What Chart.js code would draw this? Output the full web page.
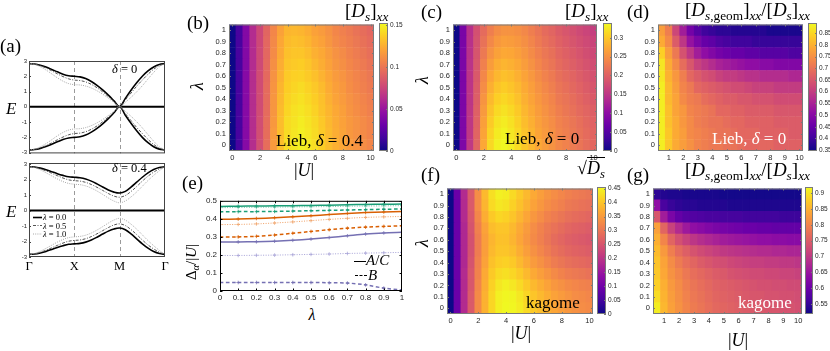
<!DOCTYPE html>
<html><head><meta charset="utf-8">
<script src="https://cdn.jsdelivr.net/npm/chart.js"></script>
<style>
html,body{margin:0;padding:0;background:#fff;width:830px;height:351px;overflow:hidden;position:relative}
canvas{position:absolute}
.m{position:absolute;font-family:'Liberation Serif','DejaVu Serif',serif;white-space:nowrap;line-height:1;color:#000}
.m sub{font-size:0.7em;vertical-align:-0.32em;line-height:0}
.rot{transform:translate(-50%,-50%) rotate(-90deg)}
.ctr{transform:translate(-50%,-50%)}
.w{color:#fff}
</style></head><body>
<script>
// ---------------- DATA ----------------
const lambdaVals = [0,0.1,0.2,0.3,0.4,0.5,0.6,0.7,0.8,0.9,1];
const lambdaTickLabels = ['0','0.1','0.2','0.3','0.4','0.5','0.6','0.7','0.8','0.9','1'];
const uFrom0 = [0,0.5,1,1.5,2,2.5,3,3.5,4,4.5,5,5.5,6,6.5,7,7.5,8,8.5,9,9.5,10];
const uFromHalf = [0.5,1,1.5,2,2.5,3,3.5,4,4.5,5,5.5,6,6.5,7,7.5,8,8.5,9,9.5,10];
const uTicksEven = [0,2,4,6,8,10];
const uTicksAll = [1,2,3,4,5,6,7,8,9,10];

// (a) band structure along Γ-X-M-Γ
const kPath = [0,0.125,0.25,0.375,0.5,0.625,0.75,0.875,1,1.125,1.25,1.375,1.5,1.625,1.75,1.875,2,2.125,2.25,2.375,2.5,2.625,2.75,2.875,3];
const pathLabels = ['Γ','X','M','Γ'];
const energyTicks = [-3,-2,-1,0,1,2,3];
const flatBand = [0,0];
const flatK = [0,3];
const d0_l00_up = [2.83,2.80,2.72,2.60,2.45,2.29,2.14,2.04,2.00,1.96,1.85,1.66,1.41,1.11,0.77,0.39,0.00,0.55,1.08,1.57,2.00,2.35,2.61,2.77,2.83];
const d0_l05_up = [2.83,2.79,2.69,2.54,2.36,2.16,1.98,1.83,1.75,1.72,1.63,1.47,1.25,0.98,0.67,0.34,0.00,0.45,0.90,1.35,1.75,2.13,2.46,2.70,2.83];
const d0_l10_up = [2.83,2.77,2.62,2.41,2.16,1.90,1.68,1.52,1.45,1.43,1.36,1.23,1.05,0.83,0.57,0.29,0.00,0.30,0.62,0.98,1.38,1.82,2.25,2.62,2.83];
const d0_l00_dn = [-2.83,-2.80,-2.72,-2.60,-2.45,-2.29,-2.14,-2.04,-2.00,-1.96,-1.85,-1.66,-1.41,-1.11,-0.77,-0.39,0.00,-0.55,-1.08,-1.57,-2.00,-2.35,-2.61,-2.77,-2.83];
const d0_l05_dn = [-2.83,-2.79,-2.69,-2.54,-2.36,-2.16,-1.98,-1.83,-1.75,-1.72,-1.63,-1.47,-1.25,-0.98,-0.67,-0.34,0.00,-0.45,-0.90,-1.35,-1.75,-2.13,-2.46,-2.70,-2.83];
const d0_l10_dn = [-2.83,-2.77,-2.62,-2.41,-2.16,-1.90,-1.68,-1.52,-1.45,-1.43,-1.36,-1.23,-1.05,-0.83,-0.57,-0.29,0.00,-0.30,-0.62,-0.98,-1.38,-1.82,-2.25,-2.62,-2.83];
const d4_l00_up = [2.83,2.81,2.74,2.64,2.51,2.38,2.27,2.18,2.15,2.12,2.04,1.90,1.72,1.52,1.33,1.19,1.13,1.24,1.51,1.83,2.15,2.43,2.65,2.78,2.83];
const d4_l05_up = [2.83,2.79,2.70,2.56,2.41,2.25,2.10,1.98,1.93,1.90,1.82,1.68,1.50,1.30,1.10,0.93,0.86,0.97,1.23,1.55,1.90,2.22,2.48,2.69,2.83];
const d4_l10_up = [2.83,2.77,2.63,2.44,2.24,2.04,1.87,1.75,1.70,1.67,1.59,1.45,1.26,1.04,0.81,0.61,0.50,0.62,0.88,1.20,1.57,1.94,2.27,2.57,2.83];
const d4_l00_dn = [-2.83,-2.81,-2.74,-2.64,-2.51,-2.38,-2.27,-2.18,-2.15,-2.12,-2.04,-1.90,-1.72,-1.52,-1.33,-1.19,-1.13,-1.24,-1.51,-1.83,-2.15,-2.43,-2.65,-2.78,-2.83];
const d4_l05_dn = [-2.83,-2.79,-2.70,-2.56,-2.41,-2.25,-2.10,-1.98,-1.93,-1.90,-1.82,-1.68,-1.50,-1.30,-1.10,-0.93,-0.86,-0.97,-1.23,-1.55,-1.90,-2.22,-2.48,-2.69,-2.83];
const d4_l10_dn = [-2.83,-2.77,-2.63,-2.44,-2.24,-2.04,-1.87,-1.75,-1.70,-1.67,-1.59,-1.45,-1.26,-1.04,-0.81,-0.61,-0.50,-0.62,-0.88,-1.20,-1.57,-1.94,-2.27,-2.57,-2.83];

// (b) [Ds]xx Lieb delta=0.4 ; rows = lambda 0..1, cols = |U| 0..10
const heatB = [
[0,.018,.042,.063,.080,.096,.117,.132,.143,.147,.150,.147,.143,.137,.131,.126,.122,.117,.114,.111,.108],
[0,.018,.042,.063,.080,.096,.117,.131,.142,.146,.149,.146,.142,.136,.130,.125,.121,.116,.113,.110,.107],
[0,.018,.042,.063,.080,.096,.116,.131,.142,.145,.148,.145,.141,.135,.129,.124,.120,.116,.113,.110,.107],
[0,.018,.042,.063,.079,.095,.115,.130,.140,.144,.146,.143,.139,.133,.128,.123,.119,.114,.111,.108,.105],
[0,.018,.042,.063,.079,.095,.115,.129,.139,.142,.144,.141,.137,.132,.126,.121,.117,.113,.110,.107,.104],
[0,.018,.042,.063,.079,.095,.114,.128,.137,.140,.142,.139,.135,.130,.124,.119,.116,.111,.108,.105,.102],
[0,.018,.042,.063,.079,.094,.113,.126,.136,.138,.139,.136,.132,.127,.122,.117,.114,.110,.107,.104,.101],
[0,.018,.041,.062,.078,.094,.112,.125,.134,.136,.137,.134,.129,.125,.120,.115,.112,.108,.105,.102,.099],
[0,.018,.041,.062,.078,.093,.110,.123,.132,.134,.134,.131,.126,.123,.118,.113,.110,.106,.103,.100,.097],
[0,.018,.041,.062,.077,.093,.109,.122,.130,.132,.131,.128,.123,.120,.115,.110,.107,.104,.101,.098,.095],
[0,.018,.041,.062,.077,.092,.108,.120,.128,.129,.128,.125,.120,.117,.113,.108,.105,.102,.099,.096,.093]];
const cbB = [0, 0.1527];
const cbBTicks = [0,0.05,0.1,0.15];
const cbBLabels = ['0','0.05','0.1','0.15'];

// (c) [Ds]xx Lieb delta=0
const heatC = [
[0,.085,.153,.204,.272,.313,.333,.338,.330,.316,.299,.286,.272,.262,.252,.241,.235,.228,.221,.214,.207],
[0,.085,.152,.203,.268,.308,.328,.335,.325,.312,.296,.283,.269,.259,.249,.238,.232,.225,.218,.211,.204],
[0,.085,.152,.201,.264,.302,.322,.329,.320,.307,.291,.279,.265,.255,.246,.235,.229,.222,.215,.208,.201],
[0,.084,.151,.199,.259,.295,.314,.321,.313,.301,.286,.274,.261,.251,.241,.231,.224,.217,.210,.204,.197],
[0,.084,.150,.196,.253,.287,.305,.312,.305,.294,.280,.268,.256,.246,.237,.226,.220,.213,.206,.199,.192],
[0,.084,.149,.194,.246,.279,.296,.303,.297,.287,.275,.263,.251,.241,.232,.221,.215,.208,.201,.194,.187],
[0,.083,.148,.191,.240,.270,.286,.293,.289,.280,.268,.257,.245,.235,.227,.216,.210,.203,.196,.189,.182],
[0,.083,.147,.189,.233,.261,.277,.284,.280,.273,.262,.251,.239,.229,.221,.211,.204,.197,.190,.184,.177],
[0,.083,.145,.186,.226,.251,.266,.273,.271,.264,.255,.244,.233,.223,.216,.205,.199,.192,.185,.178,.171],
[0,.082,.144,.183,.218,.241,.256,.263,.261,.256,.248,.238,.227,.217,.210,.200,.193,.186,.179,.173,.166],
[0,.082,.143,.180,.211,.231,.245,.252,.252,.248,.241,.231,.221,.211,.204,.194,.187,.180,.173,.167,.160]];
const cbC = [0, 0.339];
const cbCTicks = [0,0.05,0.1,0.15,0.2,0.25,0.3];
const cbCLabels = ['0','0.05','0.1','0.15','0.2','0.25','0.3'];

// (d) [Ds,geom]xx/[Ds]xx Lieb delta=0 ; cols = |U| 0.5..10
const heatD = [
[.88,.83,.79,.77,.75,.73,.72,.71,.71,.70,.70,.69,.68,.68,.68,.68,.67,.67,.67,.67],
[.88,.83,.79,.77,.74,.73,.72,.71,.70,.70,.69,.68,.68,.68,.67,.67,.67,.67,.66,.66],
[.88,.82,.79,.76,.74,.72,.71,.70,.70,.69,.68,.68,.67,.67,.67,.67,.66,.66,.66,.66],
[.88,.82,.78,.76,.73,.72,.71,.70,.68,.68,.67,.67,.66,.66,.66,.66,.65,.65,.65,.65],
[.88,.81,.78,.74,.72,.71,.69,.68,.67,.66,.66,.65,.65,.64,.64,.64,.63,.63,.63,.63],
[.88,.81,.77,.73,.71,.68,.67,.66,.65,.64,.63,.63,.62,.61,.61,.61,.60,.60,.60,.60],
[.87,.80,.76,.72,.68,.66,.64,.63,.61,.60,.60,.59,.58,.58,.57,.57,.57,.57,.56,.56],
[.87,.79,.74,.69,.65,.61,.59,.57,.55,.54,.53,.52,.51,.51,.50,.50,.49,.49,.49,.49],
[.84,.77,.71,.64,.59,.54,.51,.49,.47,.46,.45,.45,.44,.44,.43,.43,.43,.43,.42,.42],
[.79,.74,.66,.59,.52,.48,.45,.44,.42,.41,.40,.40,.40,.39,.39,.39,.39,.39,.39,.39],
[.77,.72,.62,.54,.47,.43,.40,.39,.38,.38,.37,.37,.37,.37,.37,.36,.36,.36,.36,.36]];
const cbD = [0.346, 0.894];
const cbDTicks = [0.35,0.4,0.45,0.5,0.55,0.6,0.65,0.7,0.75,0.8,0.85];
const cbDLabels = ['0.35','0.4','0.45','0.5','0.55','0.6','0.65','0.7','0.75','0.8','0.85'];

// (f) sqrt(Ds) kagome
const heatF = [
[0,.092,.184,.258,.327,.377,.419,.446,.455,.453,.442,.423,.405,.391,.377,.363,.354,.345,.336,.331,.327],
[0,.092,.184,.258,.327,.377,.419,.446,.453,.451,.437,.419,.400,.386,.373,.359,.350,.340,.331,.327,.322],
[0,.092,.184,.253,.322,.373,.414,.437,.446,.437,.423,.405,.386,.373,.359,.345,.336,.327,.322,.317,.313],
[0,.092,.184,.253,.317,.368,.405,.423,.428,.419,.405,.386,.368,.354,.340,.327,.317,.308,.304,.299,.294],
[0,.092,.179,.248,.313,.359,.396,.409,.414,.405,.386,.368,.350,.336,.322,.308,.299,.290,.285,.281,.276],
[0,.092,.179,.244,.308,.354,.386,.400,.400,.391,.373,.354,.336,.322,.308,.294,.285,.276,.271,.267,.262],
[0,.092,.179,.244,.308,.354,.382,.396,.396,.382,.363,.345,.327,.313,.299,.285,.276,.267,.262,.258,.253],
[0,.092,.179,.248,.313,.359,.391,.400,.400,.386,.368,.350,.331,.317,.304,.294,.285,.276,.271,.267,.262],
[0,.092,.184,.253,.322,.373,.405,.419,.414,.400,.382,.363,.345,.331,.317,.308,.299,.290,.285,.281,.276],
[0,.092,.184,.258,.331,.382,.423,.437,.432,.414,.396,.377,.359,.345,.331,.322,.313,.304,.299,.294,.290],
[0,.092,.184,.258,.331,.386,.428,.446,.442,.423,.405,.386,.368,.354,.340,.331,.322,.313,.308,.304,.299]];
const cbF = [0, 0.456];
const cbFTicks = [0,0.05,0.1,0.15,0.2,0.25,0.3,0.35,0.4,0.45];
const cbFLabels = ['0','0.05','0.1','0.15','0.2','0.25','0.3','0.35','0.4','0.45'];

// (g) [Ds,geom]xx/[Ds]xx kagome ; cols = |U| 0.5..10
const heatG = [
[.908,.856,.832,.816,.800,.788,.780,.772,.764,.760,.756,.752,.748,.744,.744,.740,.740,.736,.736,.732],
[.892,.852,.828,.812,.796,.784,.776,.768,.760,.756,.752,.748,.744,.740,.740,.736,.736,.732,.732,.728],
[.880,.848,.824,.808,.792,.780,.772,.764,.756,.752,.748,.744,.740,.736,.732,.732,.728,.728,.724,.724],
[.872,.840,.816,.800,.784,.772,.764,.756,.748,.744,.736,.732,.728,.724,.724,.720,.720,.716,.716,.712],
[.868,.836,.808,.788,.772,.760,.748,.740,.732,.728,.720,.716,.712,.708,.708,.704,.704,.700,.700,.696],
[.860,.824,.792,.768,.752,.736,.724,.716,.708,.700,.696,.692,.688,.684,.680,.680,.676,.676,.672,.672],
[.848,.800,.760,.732,.712,.696,.684,.676,.668,.660,.656,.652,.648,.644,.640,.640,.636,.636,.632,.632],
[.832,.760,.712,.680,.656,.640,.632,.624,.616,.612,.608,.604,.600,.600,.596,.596,.592,.592,.592,.592],
[.740,.660,.616,.592,.580,.576,.572,.568,.568,.564,.564,.564,.560,.560,.560,.560,.560,.556,.556,.556],
[.640,.568,.552,.544,.540,.540,.536,.536,.536,.536,.532,.532,.532,.532,.532,.532,.532,.532,.532,.532],
[.544,.536,.532,.532,.528,.528,.528,.528,.528,.524,.524,.524,.524,.524,.524,.524,.524,.524,.524,.524]];
const cbG = [0.519, 0.919];
const cbGTicks = [0.55,0.6,0.65,0.7,0.75,0.8,0.85,0.9];
const cbGLabels = ['0.55','0.6','0.65','0.7','0.75','0.8','0.85','0.9'];

// (e) Delta_alpha/|U| vs lambda
const gapTicksY = [0,0.1,0.2,0.3,0.4,0.5];
const gapTickLabelsY = ['0','0.1','0.2','0.3','0.4','0.5'];
const gapGreenA   = [.469,.470,.471,.472,.473,.474,.476,.478,.480,.481,.482];
const gapGreenDot = [.462,.463,.464,.465,.466,.467,.468,.470,.471,.472,.473];
const gapGreenB   = [.439,.440,.440,.441,.443,.445,.447,.449,.451,.453,.455];
const gapOrangeA  = [.398,.399,.402,.406,.411,.417,.424,.430,.435,.438,.440];
const gapOrangeDot= [.368,.369,.372,.377,.383,.390,.397,.403,.408,.411,.413];
const gapOrangeB  = [.299,.300,.303,.310,.320,.330,.340,.348,.354,.358,.362];
const gapPurpleA  = [.272,.272,.273,.276,.281,.288,.296,.306,.316,.322,.325];
const gapPurpleDot= [.197,.197,.198,.199,.201,.203,.205,.208,.210,.212,.214];
const gapPurpleB  = [.047,.047,.047,.047,.047,.047,.046,.044,.034,.016,.006];

// ---------------- helpers ----------------
const PLASMA = ['#0d0887','#41049d','#6a00a8','#8f0da4','#b12a90','#cc4778','#e16462','#f2844b','#fca636','#fcce25','#f0f921'];
const PL = PLASMA.map(h => [parseInt(h.slice(1,3),16),parseInt(h.slice(3,5),16),parseInt(h.slice(5,7),16)]);
function plasma(t){
  t = Math.max(0, Math.min(1, t));
  const f = t*10, i = Math.min(9, Math.floor(f)), r = f - i;
  const a = PL[i], b = PL[i+1];
  return 'rgb(' + [0,1,2].map(k => Math.round(a[k] + (b[k]-a[k])*r)).join(',') + ')';
}
Chart.defaults.font.family = "'Liberation Sans', Arial, sans-serif";
Chart.defaults.color = '#262626';
Chart.defaults.animation = false;
Chart.defaults.responsive = false;
Chart.defaults.devicePixelRatio = 1;
Chart.defaults.plugins.legend.display = false;
Chart.defaults.plugins.tooltip.enabled = false;

const frameTicks = {
  id: 'frameTicks',
  beforeDatasetsDraw(chart, args, o) {
    if (!o || !o.on || !o.vlines) return;
    const {ctx, chartArea: a, scales} = chart;
    ctx.save(); ctx.setLineDash(o.vdash || [3,3]); ctx.strokeStyle = o.vcolor || '#999'; ctx.lineWidth = 1;
    o.vlines.forEach(v => { const p = Math.round(scales.x.getPixelForValue(v)) + 0.5; ctx.beginPath(); ctx.moveTo(p, a.top); ctx.lineTo(p, a.bottom); ctx.stroke(); });
    ctx.restore();
  },
  afterDatasetsDraw(chart, args, o) {
    if (!o || !o.on) return;
    const {ctx, chartArea: a, scales} = chart;
    ctx.save();
    ctx.strokeStyle = o.color || '#000'; ctx.lineWidth = o.width || 1;
    const L = o.len || 3;
    const seg = (x1,y1,x2,y2) => { ctx.beginPath(); ctx.moveTo(x1,y1); ctx.lineTo(x2,y2); ctx.stroke(); };
    if (o.xTicks !== false && scales.x && scales.x.ticks) {
      scales.x.ticks.forEach(t => { const p = Math.round(scales.x.getPixelForValue(t.value)) + 0.5;
        if (p < a.left || p > a.right) return;
        seg(p, a.bottom, p, a.bottom - L); if (o.mirror) seg(p, a.top, p, a.top + L); });
    }
    if (o.yTicks !== false && scales.y && scales.y.ticks) {
      scales.y.ticks.forEach(t => { const p = Math.round(scales.y.getPixelForValue(t.value)) + 0.5;
        if (p < a.top - 1 || p > a.bottom + 1) return;
        if (o.yRight) seg(a.right, p, a.right - L, p); else seg(a.left, p, a.left + L, p);
        if (o.mirror) seg(a.right, p, a.right - L, p); });
    }
    ctx.strokeRect(a.left + 0.5, a.top + 0.5, a.right - a.left - 1, a.bottom - a.top - 1);
    ctx.restore();
  }
};
Chart.register(frameTicks);

function setupCanvas(r, m){
  const c = document.createElement('canvas');
  const w = r[2]-r[0]+m.l+m.r, h = r[3]-r[1]+m.t+m.b;
  c.width = w; c.height = h;
  c.style.left = (r[0]-m.l)+'px'; c.style.top = (r[1]-m.t)+'px';
  c.style.width = w+'px'; c.style.height = h+'px';
  document.body.appendChild(c);
  return c;
}
const fixedTicks = vals => s => { s.ticks = vals.map(v => ({value: v})); };
const noGrid = {display: false, drawTicks: false};

function heatmap(rect, grid, uVals, xMin, xMax, xTicks, range){
  const m = {l: 24, t: 6, r: 8, b: 12};
  const c = setupCanvas(rect, m);
  const [lo, hi] = range;
  new Chart(c, {
    type: 'bar',
    data: { datasets: grid.map((row, i) => ({
      data: row.map((v, j) => ({x: uVals[j], y: [lambdaVals[i] - 0.05, lambdaVals[i] + 0.05]})),
      backgroundColor: row.map(v => plasma((v - lo)/(hi - lo))),
      borderWidth: 0, grouped: false, barPercentage: 1, categoryPercentage: 1, clip: 0
    }))},
    options: {
      layout: {padding: {top: m.t, right: m.r, left: 0, bottom: 0}},
      scales: {
        x: {type: 'linear', min: xMin, max: xMax, offset: false, grid: noGrid, border: {display: false},
            afterBuildTicks: fixedTicks(xTicks), afterFit: s => { s.height = m.b; },
            ticks: {font: {size: 7.5}, padding: 2, maxRotation: 0, autoSkip: false, callback: v => String(v)}},
        y: {type: 'linear', min: -0.05, max: 1.05, grid: noGrid, border: {display: false},
            afterBuildTicks: fixedTicks(lambdaVals), afterFit: s => { s.width = m.l; },
            ticks: {font: {size: 7.5}, padding: 3, autoSkip: false, callback: (v, i) => lambdaTickLabels[i]}}
      },
      plugins: {frameTicks: {on: true, color: '#7a7a7a', len: 2, mirror: true}}
    }
  });
}

function colorbar(rect, range, ticks, labels){
  const m = {l: 0, t: 6, r: 24, b: 6};
  const c = setupCanvas(rect, m);
  const [lo, hi] = range;
  new Chart(c, {
    type: 'bar',
    data: {labels: ['c'], datasets: [{data: [[lo, hi]], borderWidth: 0, barPercentage: 1, categoryPercentage: 1,
      backgroundColor: ctx => {
        const a = ctx.chart.chartArea; if (!a) return plasma(0.5);
        const g = ctx.chart.ctx.createLinearGradient(0, a.bottom, 0, a.top);
        PLASMA.forEach((col, i) => g.addColorStop(i/10, col));
        return g;
      }}]},
    options: {
      layout: {padding: {top: m.t, right: 0, left: 0, bottom: m.b}},
      scales: {
        x: {display: false},
        y: {position: 'right', min: lo, max: hi, grid: noGrid, border: {display: false},
            afterBuildTicks: fixedTicks(ticks), afterFit: s => { s.width = m.r; },
            ticks: {font: {size: 6.5}, padding: 2, autoSkip: false, callback: (v, i) => labels[i]}}
      },
      plugins: {frameTicks: {on: true, color: '#7a7a7a', len: 2, xTicks: false, yRight: true}}
    }
  });
}

function bandChart(rect, ymin, ymax, showX, ups, dns){
  const m = {l: 29, t: 6, r: 6, b: showX ? 17 : 5};
  const c = setupCanvas(rect, m);
  const styles = [
    {color: '#000', width: 1.6, dash: []},
    {color: '#555', width: 1, dash: [3,1.5,1,1.5]},
    {color: '#a8a8a8', width: 1, dash: [1,1.2]}
  ];
  const ds = [];
  [2,1,0].forEach(i => {
    [ups[i], dns[i]].forEach(arr => ds.push({
      data: kPath.map((k, j) => ({x: k, y: arr[j]})),
      borderColor: styles[i].color, borderWidth: styles[i].width, borderDash: styles[i].dash,
      pointRadius: 0, tension: 0.35, fill: false
    }));
  });
  ds.push({data: flatK.map((k, j) => ({x: k, y: flatBand[j]})), borderColor: '#000', borderWidth: 2, pointRadius: 0});
  new Chart(c, {
    type: 'line',
    data: {datasets: ds},
    options: {
      layout: {padding: {top: m.t, right: m.r, left: 0, bottom: 0}},
      scales: {
        x: {type: 'linear', min: 0, max: 3, grid: noGrid, border: {display: false},
            afterBuildTicks: fixedTicks([0,1,2,3]), afterFit: s => { s.height = m.b; },
            ticks: {display: showX, autoSkip: false, maxRotation: 0, padding: 2, color: '#000',
                    font: {family: "'Liberation Serif', serif", size: 12.5}, callback: (v, i) => pathLabels[i]}},
        y: {type: 'linear', min: ymin, max: ymax, grid: noGrid, border: {display: false},
            afterBuildTicks: fixedTicks(energyTicks), afterFit: s => { s.width = m.l; },
            ticks: {font: {size: 6}, padding: 2, autoSkip: false, callback: v => String(v)}}
      },
      plugins: {frameTicks: {on: true, color: '#444', len: 2, xTicks: false, vlines: [1,2], vdash: [4,3], vcolor: '#9a9a9a'}}
    }
  });
}

function gapChart(rect){
  const m = {l: 26, t: 6, r: 6, b: 13};
  const c = setupCanvas(rect, m);
  const G = '#1b9e77', O = '#d95f02', P = '#7570b3';
  const Gl = '#6fc7a8', Ol = '#f0a36a', Pl = '#a9a5d8';
  const spec = [
    [gapGreenA, G, []], [gapGreenDot, Gl, [1,1.4]], [gapGreenB, G, [3.5,2.5]],
    [gapOrangeA, O, []], [gapOrangeDot, Ol, [1,1.4]], [gapOrangeB, O, [3.5,2.5]],
    [gapPurpleA, P, []], [gapPurpleDot, Pl, [1,1.4]], [gapPurpleB, P, [3.5,2.5]]
  ];
  new Chart(c, {
    type: 'line',
    data: {datasets: spec.map(([arr, col, dash]) => ({
      data: lambdaVals.map((x, i) => ({x, y: arr[i]})),
      borderColor: col, borderWidth: dash.length === 2 && dash[0] === 1 ? 1 : 1.5, borderDash: dash,
      pointStyle: 'cross', pointRadius: 1.8, pointBorderWidth: 0.8, pointBorderColor: col, tension: 0.3
    }))},
    options: {
      layout: {padding: {top: m.t, right: m.r, left: 0, bottom: 0}},
      scales: {
        x: {type: 'linear', min: 0, max: 1, grid: noGrid, border: {display: false},
            afterBuildTicks: fixedTicks(lambdaVals), afterFit: s => { s.height = m.b; },
            ticks: {font: {size: 8}, padding: 2, autoSkip: false, maxRotation: 0, callback: (v, i) => lambdaTickLabels[i]}},
        y: {type: 'linear', min: 0, max: 0.5, grid: noGrid, border: {display: false},
            afterBuildTicks: fixedTicks(gapTicksY), afterFit: s => { s.width = m.l; },
            ticks: {font: {size: 8}, padding: 3, autoSkip: false, callback: (v, i) => gapTickLabelsY[i]}}
      },
      plugins: {frameTicks: {on: true, color: '#000', len: 2.5, mirror: true}}
    }
  });
}

// ---------------- build ----------------
bandChart([29,61,165,154], -3.05, 3.0, false, [d0_l00_up,d0_l05_up,d0_l10_up], [d0_l00_dn,d0_l05_dn,d0_l10_dn]);
bandChart([29,163,165,257], -3.0, 3.07, true, [d4_l00_up,d4_l05_up,d4_l10_up], [d4_l00_dn,d4_l05_dn,d4_l10_dn]);

heatmap([229,23,374,151], heatB, uFrom0, -0.25, 10.25, uTicksEven, cbB);
colorbar([379,23,388,151], cbB, cbBTicks, cbBLabels);
heatmap([453,23,597,151], heatC, uFrom0, -0.25, 10.25, uTicksEven, cbC);
colorbar([603,23,612,151], cbC, cbCTicks, cbCLabels);
heatmap([658,23,803,151], heatD, uFromHalf, 0.25, 10.25, uTicksAll, cbD);
colorbar([808,23,817,151], cbD, cbDTicks, cbDLabels);
heatmap([447,187,593,314], heatF, uFrom0, -0.25, 10.25, uTicksEven, cbF);
colorbar([597,187,606,314], cbF, cbFTicks, cbFLabels);
heatmap([653,187,802,314], heatG, uFromHalf, 0.25, 10.25, uTicksAll, cbG);
colorbar([805,187,813,314], cbG, cbGTicks, cbGLabels);

gapChart([220,199,402,291]);
</script>

<!-- panel letters -->
<div class="m" style="left:0px;top:36px;font-size:19px">(a)</div>
<div class="m" style="left:187px;top:13px;font-size:19px">(b)</div>
<div class="m" style="left:421px;top:2px;font-size:19px">(c)</div>
<div class="m" style="left:627px;top:2px;font-size:19px">(d)</div>
<div class="m" style="left:182px;top:173px;font-size:19px">(e)</div>
<div class="m" style="left:421px;top:165px;font-size:19px">(f)</div>
<div class="m" style="left:627px;top:165px;font-size:19px">(g)</div>

<!-- titles -->
<div class="m" style="left:345px;top:1px;font-size:19px">[<i>D</i><sub><i>s</i></sub>]<sub><i>xx</i></sub></div>
<div class="m" style="left:565px;top:1px;font-size:19px">[<i>D</i><sub><i>s</i></sub>]<sub><i>xx</i></sub></div>
<div class="m" style="left:685px;top:0px;font-size:19px">[<i>D</i><sub><i>s</i>,geom</sub>]<sub><i>xx</i></sub>/[<i>D</i><sub><i>s</i></sub>]<sub><i>xx</i></sub></div>
<div class="m" style="left:577px;top:159px;font-size:18px">√<span style="border-top:1px solid #000"><i>D</i><sub><i>s</i></sub></span></div>
<div class="m" style="left:685px;top:160px;font-size:19px">[<i>D</i><sub><i>s</i>,geom</sub>]<sub><i>xx</i></sub>/[<i>D</i><sub><i>s</i></sub>]<sub><i>xx</i></sub></div>

<!-- panel (a) annotations -->
<div class="m" style="left:112px;top:63px;font-size:12.5px"><i>δ</i> = 0</div>
<div class="m" style="left:112px;top:162px;font-size:12.5px"><i>δ</i> = 0.4</div>
<div class="m" style="left:6px;top:100px;font-size:17px"><i>E</i></div>
<div class="m" style="left:6px;top:203px;font-size:17px"><i>E</i></div>
<svg style="position:absolute;left:32px;top:213px" width="11" height="26">
  <line x1="1" y1="4.5" x2="10" y2="4.5" stroke="#000" stroke-width="1.6"/>
  <line x1="1" y1="12.5" x2="10" y2="12.5" stroke="#555" stroke-width="1" stroke-dasharray="3,1.5,1,1.5"/>
  <line x1="1" y1="21" x2="10" y2="21" stroke="#a8a8a8" stroke-width="1" stroke-dasharray="1,1.2"/>
</svg>
<div class="m" style="left:43px;top:213px;font-size:8.5px"><i>λ</i> = 0.0</div>
<div class="m" style="left:43px;top:221.5px;font-size:8.5px"><i>λ</i> = 0.5</div>
<div class="m" style="left:43px;top:230px;font-size:8.5px"><i>λ</i> = 1.0</div>

<!-- heatmap axis labels -->
<div class="m rot" style="left:197px;top:86px;font-size:18px"><i>λ</i></div>
<div class="m ctr" style="left:304px;top:170px;font-size:18px">|<i>U</i>|</div>
<div class="m rot" style="left:422px;top:80px;font-size:18px"><i>λ</i></div>
<div class="m rot" style="left:422px;top:243px;font-size:18px"><i>λ</i></div>
<div class="m ctr" style="left:521px;top:333px;font-size:18px">|<i>U</i>|</div>
<div class="m ctr" style="left:738px;top:340px;font-size:18px">|<i>U</i>|</div>

<!-- heatmap annotations -->
<div class="m" style="left:276px;top:132px;font-size:17px">Lieb, <i>δ</i> = 0.4</div>
<div class="m" style="left:505px;top:130px;font-size:17px">Lieb, <i>δ</i> = 0</div>
<div class="m w" style="left:712px;top:130px;font-size:17px">Lieb, <i>δ</i> = 0</div>
<div class="m" style="left:526px;top:294px;font-size:17px">kagome</div>
<div class="m w" style="left:738px;top:294px;font-size:17px">kagome</div>

<!-- panel (e) labels & legend -->
<div class="m rot" style="left:191px;top:262px;font-size:15px">Δ<sub><i>α</i></sub>/|<i>U</i>|</div>
<div class="m ctr" style="left:312px;top:315px;font-size:16px"><i>λ</i></div>
<div style="position:absolute;left:354px;top:261px;width:12px;border-top:1.3px solid #000"></div>
<div class="m" style="left:366px;top:253px;font-size:15px"><i>A</i>/<i>C</i></div>
<div style="position:absolute;left:355px;top:275px;width:12px;border-top:1.3px dashed #000"></div>
<div class="m" style="left:368px;top:268px;font-size:15px"><i>B</i></div>
</body></html>
